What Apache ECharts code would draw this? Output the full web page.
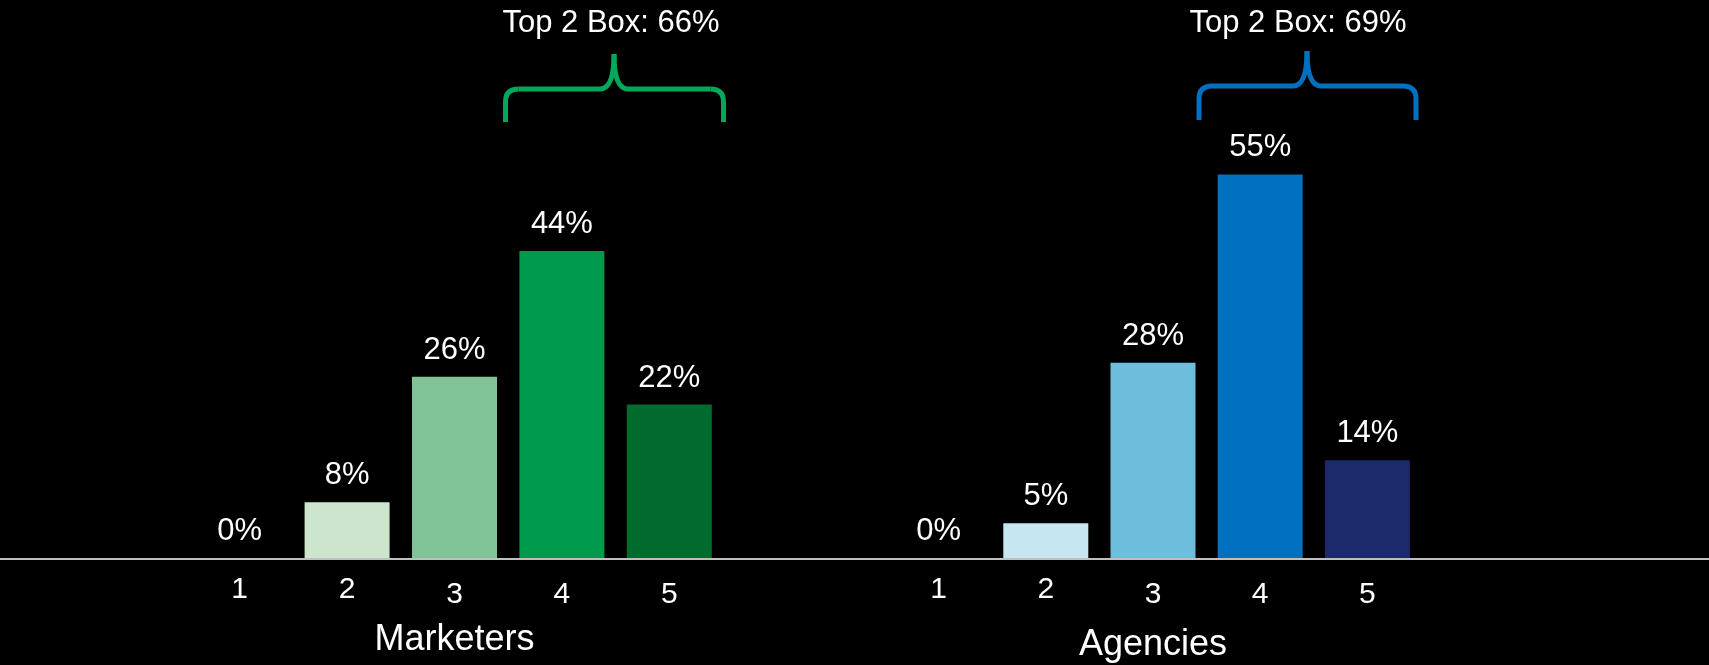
<!DOCTYPE html>
<html>
<head>
<meta charset="utf-8">
<script src="https://cdn.jsdelivr.net/npm/echarts@6/dist/echarts.min.js"></script>
<style>
  html, body { margin: 0; padding: 0; background: #000; }
  #main { width: 1709px; height: 665px; }
</style>
</head>
<body>
<div id="main"></div>
<script>
// data
var scores = ["1", "2", "3", "4", "5"];
var marketers = [0, 8, 26, 44, 22];
var agencies = [0, 5, 28, 55, 14];
var groupNames = ["Marketers", "Agencies"];
var top2Labels = ["Top 2 Box: 66%", "Top 2 Box: 69%"];

// colours
var greenColors = ["#cce5cc", "#cce5cc", "#7fc396", "#009a4c", "#006b2d"];
var blueColors = ["#c6e7f1", "#c6e7f1", "#6dbedd", "#0070c0", "#1c296a"];

var font = "Liberation Sans, Arial, sans-serif";

function barData(values, colors) {
  var out = [];
  for (var i = 0; i < values.length; i++) {
    out.push({ value: values[i], itemStyle: { color: colors[i] } });
  }
  return out;
}

function catAxis(gridIndex, name, nameGap) {
  return {
    type: "category",
    gridIndex: gridIndex,
    data: scores,
    axisLine: { show: false },
    axisTick: { show: false },
    axisLabel: {
      color: "#fff",
      fontSize: 30,
      fontFamily: font,
      margin: 17,
      formatter: function (v, i) {
        return i >= 2 ? "{lo|" + v + "}" : v;
      },
      rich: {
        lo: { color: "#fff", fontSize: 30, fontFamily: font, padding: [5, 0, 0, 0] }
      }
    },
    name: name,
    nameLocation: "middle",
    nameGap: nameGap,
    nameTextStyle: {
      color: "#fff",
      fontSize: 36,
      fontFamily: font
    }
  };
}

function valAxis(gridIndex) {
  return {
    type: "value",
    gridIndex: gridIndex,
    min: 0,
    max: 80,
    show: false
  };
}

function barSeries(idx, values, colors) {
  return {
    type: "bar",
    xAxisIndex: idx,
    yAxisIndex: idx,
    barWidth: 85,
    data: barData(values, colors),
    label: {
      show: true,
      position: "top",
      distance: 11,
      color: "#fff",
      fontSize: 31,
      fontFamily: font,
      formatter: "{c}%"
    }
  };
}

// curly brace over the top-2 bars, built from lines and curves
function brace(x1, x2, xm, yTip, yLine, yEnd, color) {
  var r = 13;
  var st = { stroke: color, lineWidth: 5, fill: null };
  return {
    type: "group",
    children: [
      { type: "line", shape: { x1: x1, y1: yEnd, x2: x1, y2: yLine + r }, style: st },
      { type: "bezierCurve", shape: { x1: x1, y1: yLine + r, cpx1: x1, cpy1: yLine, x2: x1 + r, y2: yLine }, style: st },
      { type: "line", shape: { x1: x1 + r, y1: yLine, x2: xm - 14, y2: yLine }, style: st },
      { type: "bezierCurve", shape: { x1: xm - 14, y1: yLine, cpx1: xm, cpy1: yLine, x2: xm, y2: yTip }, style: st },
      { type: "bezierCurve", shape: { x1: xm, y1: yTip, cpx1: xm, cpy1: yLine, x2: xm + 14, y2: yLine }, style: st },
      { type: "line", shape: { x1: xm + 14, y1: yLine, x2: x2 - r, y2: yLine }, style: st },
      { type: "bezierCurve", shape: { x1: x2 - r, y1: yLine, cpx1: x2, cpy1: yLine, x2: x2, y2: yLine + r }, style: st },
      { type: "line", shape: { x1: x2, y1: yLine + r, x2: x2, y2: yEnd }, style: st }
    ]
  };
}

var myChart = echarts.init(document.getElementById("main"));
var option = {
  backgroundColor: "#000",
  animation: false,
  grid: [
    { left: 186, width: 537, top: 0, height: 558, outerBoundsMode: "none" },
    { left: 885, width: 536, top: 0, height: 558, outerBoundsMode: "none" },
    { left: 0, right: 0, top: 0, height: 559, outerBoundsMode: "none" }
  ],
  xAxis: [
    catAxis(0, groupNames[0], 64),
    catAxis(1, groupNames[1], 69),
    {
      type: "value",
      gridIndex: 2,
      min: 0,
      max: 1,
      axisLine: { show: true, lineStyle: { color: "#bfbfbf", width: 2 } },
      axisTick: { show: false },
      axisLabel: { show: false },
      splitLine: { show: false }
    }
  ],
  yAxis: [valAxis(0), valAxis(1), valAxis(2)],
  series: [
    barSeries(0, marketers, greenColors),
    barSeries(1, agencies, blueColors)
  ],
  graphic: [
    brace(505.5, 723.5, 614, 54, 89, 122, "#00a859"),
    brace(1199, 1416, 1307, 51, 86, 120, "#0070c0"),
    {
      type: "text",
      style: {
        text: top2Labels[0], x: 611, y: 8,
        fill: "#fff", font: "31px " + font,
        textAlign: "center", textVerticalAlign: "top"
      }
    },
    {
      type: "text",
      style: {
        text: top2Labels[1], x: 1298, y: 8,
        fill: "#fff", font: "31px " + font,
        textAlign: "center", textVerticalAlign: "top"
      }
    }
  ]
};
option && myChart.setOption(option);
</script>
</body>
</html>
